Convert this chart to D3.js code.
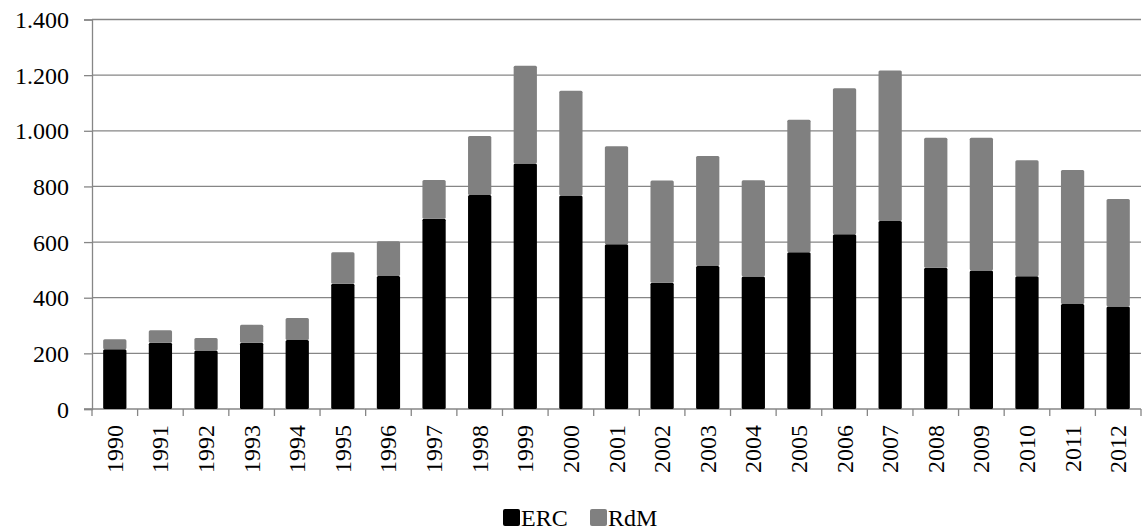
<!DOCTYPE html>
<html>
<head>
<meta charset="utf-8">
<script src="https://cdn.jsdelivr.net/npm/d3@7"></script>
<style>
  html, body { margin: 0; padding: 0; background: #fff; }
  svg { display: block; }
  text { font-family: "Liberation Serif", "Times New Roman", serif; fill: #000; }
</style>
</head>
<body>
<svg id="chart" width="1144" height="531"></svg>
<script>
const years = ["1990","1991","1992","1993","1994","1995","1996","1997","1998","1999","2000","2001","2002","2003","2004","2005","2006","2007","2008","2009","2010","2011","2012"];
const erc = [215, 238, 210, 238, 248, 450, 478, 684, 769, 882, 767, 592, 454, 514, 476, 563, 628, 676, 508, 498, 477, 377, 368];
const rdm = [36, 45, 45, 65, 79, 113, 125, 139, 212, 352, 377, 352, 367, 395, 346, 477, 525, 541, 467, 477, 417, 482, 387];
const yTicks = [0, 200, 400, 600, 800, 1000, 1200, 1400];
const seriesNames = ["ERC", "RdM"];
const seriesColors = ["#000000", "#808080"];

const svg = d3.select("#chart");
const margin = { left: 92, right: 3, top: 19.5, bottom: 122 };
const W = 1144, H = 531;
const plotW = W - margin.left - margin.right;
const plotBottom = 409;

const x = d3.scaleBand().domain(years).range([margin.left, margin.left + plotW]).paddingInner(0.49).paddingOuter(0.245);
const xBand = d3.scaleBand().domain(years).range([margin.left, margin.left + plotW]).padding(0);
const y = d3.scaleLinear().domain([0, 1400]).range([plotBottom, margin.top]);

const fmt = v => d3.format(",")(v).replace(/,/g, ".");

// gridlines
svg.append("g").selectAll("line").data(yTicks.filter(t => t > 0)).join("line")
  .attr("x1", margin.left).attr("x2", margin.left + plotW)
  .attr("y1", d => y(d)).attr("y2", d => y(d))
  .attr("stroke", "#868686").attr("stroke-width", 1.3);

// y axis
const yAxis = d3.axisLeft(y).tickValues(yTicks).tickSize(8).tickPadding(15).tickFormat(fmt);
const gy = svg.append("g").attr("transform", `translate(${margin.left},0)`).call(yAxis);
gy.select(".domain").attr("stroke", "#868686").attr("stroke-width", 1.3);
gy.selectAll(".tick line").attr("stroke", "#868686").attr("stroke-width", 1.3);
gy.selectAll(".tick text").attr("font-size", "24px").attr("font-family", "Liberation Serif").attr("dy", "0.34em");

// x axis baseline and ticks at band boundaries
const gx = svg.append("g");
gx.append("line").attr("x1", margin.left - 8).attr("x2", margin.left + plotW)
  .attr("y1", plotBottom).attr("y2", plotBottom).attr("stroke", "#868686").attr("stroke-width", 1.3);
const bounds = years.map(d => xBand(d)).concat([xBand(years[years.length - 1]) + xBand.bandwidth()]);
gx.selectAll("line.tk").data(bounds).join("line").attr("class", "tk")
  .attr("x1", d => d).attr("x2", d => d).attr("y1", plotBottom).attr("y2", plotBottom + 7)
  .attr("stroke", "#868686").attr("stroke-width", 1.3);

// stacked bars
const data = years.map((yr, i) => ({ year: yr, ERC: erc[i], RdM: rdm[i] }));
const stack = d3.stack().keys(seriesNames)(data);
svg.append("g").selectAll("g").data(stack).join("g")
  .attr("fill", (d, i) => seriesColors[i])
  .selectAll("rect").data(d => d).join("rect")
  .attr("x", d => x(d.data.year))
  .attr("width", x.bandwidth())
  .attr("y", d => y(d[1]))
  .attr("height", d => y(d[0]) - y(d[1]))
  .attr("rx", 1.5);

// x labels
svg.append("g").selectAll("text").data(years).join("text")
  .attr("transform", d => `translate(${xBand(d) + xBand.bandwidth() / 2 + 8},${plotBottom + 16}) rotate(-90)`)
  .attr("text-anchor", "end")
  .attr("font-size", "24px")
  .text(d => d);

// legend
const legend = svg.append("g");
const legItems = [{ name: "ERC", x: 503 }, { name: "RdM", x: 590 }];
legItems.forEach((it, i) => {
  legend.append("rect").attr("x", it.x).attr("y", 509).attr("width", 17).attr("height", 17).attr("rx", 2)
    .attr("fill", seriesColors[i]);
  legend.append("text").attr("x", it.x + 18).attr("y", 526).attr("font-size", "24px").text(seriesNames[i]);
});
</script>
</body>
</html>
